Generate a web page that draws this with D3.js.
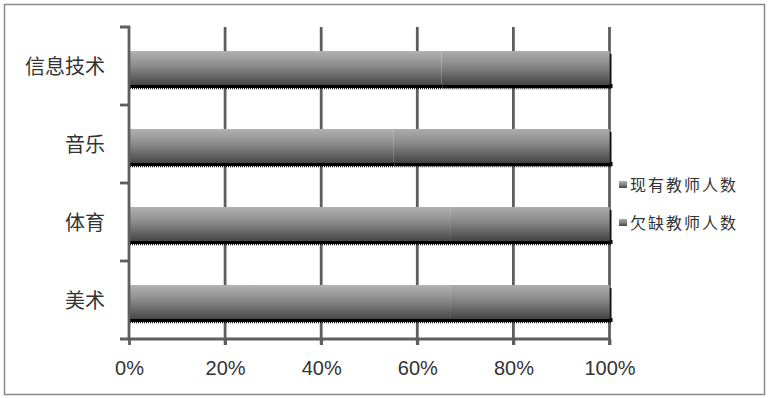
<!DOCTYPE html>
<html>
<head>
<meta charset="utf-8">
<script src="https://cdn.jsdelivr.net/npm/d3@7"></script>
<style>
  body { margin: 0; background: #fff; }
  svg text { fill: #333; }
</style>
</head>
<body>
<div id="chart-container"></div>
<script>
/* CONSTANTS AND GLOBALS */
const width = 768,
  height = 398,
  margin = { top: 27, bottom: 58, left: 129, right: 158 };

// data (percent of each row)
const categories = ["信息技术", "音乐", "体育", "美术"];
const seriesNames = ["现有教师人数", "欠缺教师人数"];
const existing = [65, 55, 67, 67];
const missing = [35, 45, 33, 33];
const tickValues = [0, 0.2, 0.4, 0.6, 0.8, 1];

const rows = categories.map((c, i) => ({
  category: c,
  [seriesNames[0]]: existing[i],
  [seriesNames[1]]: missing[i]
}));

const stacked = d3.stack()
  .keys(seriesNames)
  .offset(d3.stackOffsetExpand)(rows);

const svg = d3.select("#chart-container")
  .append("svg")
  .attr("width", width)
  .attr("height", height);

// outer frame
svg.append("rect")
  .attr("x", 4.5).attr("y", 4.5)
  .attr("width", 760).attr("height", 390)
  .attr("fill", "#fff")
  .attr("stroke", "#8a8a8a")
  .attr("stroke-width", 1.5);

// gradients for the bars
const defs = svg.append("defs");
const gradColors = [["#b2b2b2", "#8a8a8a", "#474747"], ["#acacac", "#868686", "#444"]];
gradColors.forEach((g, i) => {
  const lg = defs.append("linearGradient")
    .attr("id", "grad" + i)
    .attr("x1", 0).attr("y1", 0).attr("x2", 0).attr("y2", 1);
  lg.append("stop").attr("offset", "0%").attr("stop-color", g[0]);
  lg.append("stop").attr("offset", "45%").attr("stop-color", g[1]);
  lg.append("stop").attr("offset", "100%").attr("stop-color", g[2]);
});

/* SCALES */
const xScale = d3.scaleLinear()
  .domain([0, 1])
  .range([margin.left, width - margin.right - 0.5]);

const yScale = d3.scaleBand()
  .domain(categories)
  .range([margin.top, height - margin.bottom - 1]);

const barH = 34;
const barOff = 24;

/* GRID */
svg.append("g")
  .selectAll("line")
  .data(tickValues.slice(1))
  .join("line")
  .attr("x1", d => xScale(d)).attr("x2", d => xScale(d))
  .attr("y1", margin.top).attr("y2", yScale.range()[1] + 6)
  .attr("stroke", "#5e5e5e")
  .attr("stroke-width", 2.8);

/* BARS */
stacked.forEach((s, si) => {
  const g = svg.append("g");
  // black shadow under bars
  g.selectAll(".shadow")
    .data(s)
    .join("rect")
    .attr("class", "shadow")
    .attr("x", d => xScale(d[0]) + 1)
    .attr("y", d => yScale(d.data.category) + barOff + barH - 1)
    .attr("width", d => xScale(d[1]) - xScale(d[0]) + (si === 1 ? 2 : 0))
    .attr("height", 4)
    .attr("fill", "#000");
  g.selectAll(".dots")
    .data(s)
    .join("line")
    .attr("class", "dots")
    .attr("x1", d => xScale(d[0]) + 1)
    .attr("x2", d => xScale(d[1]) + (si === 1 ? 2 : 0))
    .attr("y1", d => yScale(d.data.category) + barOff + barH + 3.5)
    .attr("y2", d => yScale(d.data.category) + barOff + barH + 3.5)
    .attr("stroke", "#111")
    .attr("stroke-width", 1.5)
    .attr("stroke-dasharray", "1,1");
  if (si === 1) {
    g.selectAll(".rshadow")
      .data(s)
      .join("rect")
      .attr("class", "rshadow")
      .attr("x", d => xScale(d[1]))
      .attr("y", d => yScale(d.data.category) + barOff + 3)
      .attr("width", 2)
      .attr("height", barH)
      .attr("fill", "#111");
  }
  g.selectAll(".bar")
    .data(s)
    .join("rect")
    .attr("class", "bar")
    .attr("x", d => xScale(d[0]))
    .attr("y", d => yScale(d.data.category) + barOff)
    .attr("width", d => xScale(d[1]) - xScale(d[0]))
    .attr("height", barH)
    .attr("fill", `url(#grad${si})`);
});

/* AXES */
const xAxis = d3.axisBottom(xScale)
  .tickValues(tickValues)
  .tickFormat(d3.format(".0%"))
  .tickSize(6)
  .tickPadding(16);

const xAxisGroup = svg.append("g")
  .attr("transform", `translate(0, ${yScale.range()[1]})`)
  .call(xAxis);
xAxisGroup.select(".domain")
  .attr("d", `M${margin.left - 9},0H${xScale(1)}`)
  .attr("stroke", "#5e5e5e").attr("stroke-width", 2.8);
xAxisGroup.selectAll(".tick line").attr("stroke", "#5e5e5e").attr("stroke-width", 2.8);
xAxisGroup.selectAll(".tick text")
  .style("font-family", "'Liberation Sans', Arial, sans-serif")
  .style("font-size", "20px")
  .attr("fill", "#222");

const yAxis = d3.axisLeft(yScale)
  .tickSize(0)
  .tickPadding(24);

const yAxisGroup = svg.append("g")
  .attr("transform", `translate(${margin.left}, 0)`)
  .call(yAxis);
yAxisGroup.select(".domain")
  .attr("d", `M-9,${margin.top}H0V${yScale.range()[1]}`)
  .attr("fill", "none")
  .attr("stroke", "#5e5e5e").attr("stroke-width", 2.8);
yAxisGroup.selectAll(".tick text")
  .attr("dy", "0.4em")
  .style("font-family", "'Noto Sans CJK SC', sans-serif")
  .style("font-size", "20px")
  .attr("fill", "#333");

// category separators on the left axis
yAxisGroup.selectAll(".sep")
  .data(categories.slice(1))
  .join("line")
  .attr("class", "sep")
  .attr("x1", -9).attr("x2", 0)
  .attr("y1", d => yScale(d)).attr("y2", d => yScale(d))
  .attr("stroke", "#5e5e5e").attr("stroke-width", 2.8);

/* LEGEND */
const legend = svg.append("g")
  .attr("transform", "translate(619, 185)");
seriesNames.forEach((name, i) => {
  const row = legend.append("g").attr("transform", `translate(0, ${i * 38})`);
  row.append("rect")
    .attr("x", 0).attr("y", -4)
    .attr("width", 8).attr("height", 7)
    .attr("fill", `url(#grad${i})`);
  row.append("text")
    .attr("x", 11).attr("y", 0)
    .attr("dy", "0.35em")
    .style("font-family", "'Noto Sans CJK SC', sans-serif")
    .style("font-size", "16px")
    .style("letter-spacing", "2px")
    .attr("fill", "#444")
    .text(name);
});
</script>
</body>
</html>
